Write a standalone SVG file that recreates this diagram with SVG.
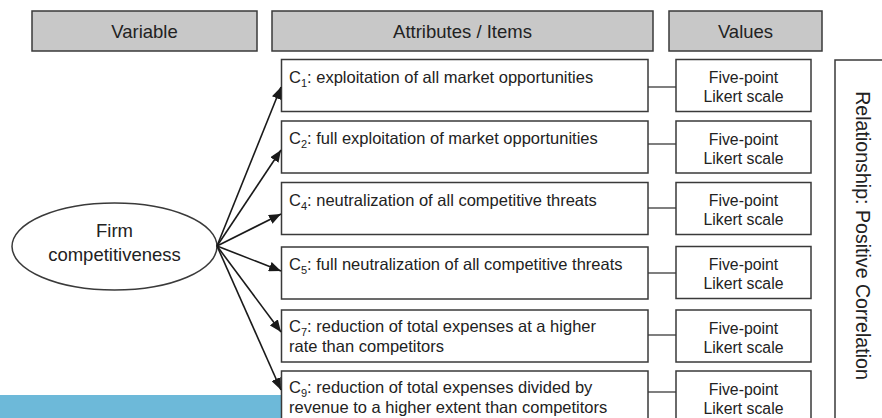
<svg xmlns="http://www.w3.org/2000/svg" width="882" height="418" viewBox="0 0 882 418">
  <style>
    .hdr { fill: #c8c8c8; stroke: #3a3a3a; stroke-width: 1.5; }
    .box { fill: #ffffff; stroke: #3a3a3a; stroke-width: 1.5; }
    .t { font-family: "Liberation Sans", Arial, sans-serif; fill: #222222; }
    .th { font-size: 18.5px; text-anchor: middle; }
    .tr { font-size: 19.6px; text-anchor: middle; }
    .ti { font-size: 16.5px; }
    .tv { font-size: 15.8px; text-anchor: middle; }
    .sub { font-size: 11px; }
    .link { stroke: #1a1a1a; stroke-width: 1.6; fill: none; }
    .tie { stroke: #3a3a3a; stroke-width: 1.3; fill: none; }
  </style>
  <defs>
    <marker id="arrow" viewBox="0 0 12 10" refX="12" refY="5" markerWidth="12" markerHeight="10" markerUnits="userSpaceOnUse" orient="auto">
      <path d="M0,0 L12,5 L0,10 Z" fill="#1a1a1a"/>
    </marker>
  </defs>

  <rect width="882" height="418" fill="#ffffff"/>

  <!-- column headers -->
  <g id="hdr-variable">
    <rect class="hdr" x="32" y="11" width="225" height="40"/>
    <text class="t th" x="144.5" y="37.5">Variable</text>
  </g>
  <g id="hdr-attributes">
    <rect class="hdr" x="272" y="11" width="381" height="40"/>
    <text class="t th" x="462.5" y="37.5">Attributes / Items</text>
  </g>
  <g id="hdr-values">
    <rect class="hdr" x="669" y="11" width="153" height="40"/>
    <text class="t th" x="745.5" y="37.5">Values</text>
  </g>

  <!-- band along the lower edge -->
  <rect x="0" y="395" width="281" height="23" fill="#6db9d9"/>

  <!-- relationship panel -->
  <g id="relationship">
    <rect class="box" x="835" y="60" width="80" height="400"/>
    <text class="t tr" transform="translate(855.5,235.5) rotate(90)">Relationship: Positive Correlation</text>
  </g>

  <!-- latent variable -->
  <g id="firm">
    <ellipse class="box" cx="114.5" cy="246.5" rx="102.5" ry="43.5"/>
    <text class="t th" x="114.5" y="237">Firm</text>
    <text class="t th" x="114.5" y="261">competitiveness</text>
  </g>

  <!-- items -->
  <g id="c1">
    <rect class="box" x="281.5" y="59.5" width="366.5" height="52"/>
    <text class="t ti" x="289" y="82.5">C<tspan class="sub" dy="4">1</tspan><tspan dy="-4">: exploitation of all market opportunities</tspan></text>
  </g>
  <g id="c2">
    <rect class="box" x="281.5" y="121" width="366.5" height="52"/>
    <text class="t ti" x="289" y="144">C<tspan class="sub" dy="4">2</tspan><tspan dy="-4">: full exploitation of market opportunities</tspan></text>
  </g>
  <g id="c4">
    <rect class="box" x="281.5" y="182.5" width="366.5" height="52"/>
    <text class="t ti" x="289" y="205.5">C<tspan class="sub" dy="4">4</tspan><tspan dy="-4">: neutralization of all competitive threats</tspan></text>
  </g>
  <g id="c5">
    <rect class="box" x="281.5" y="247" width="366.5" height="52"/>
    <text class="t ti" x="289" y="270">C<tspan class="sub" dy="4">5</tspan><tspan dy="-4">: full neutralization of all competitive threats</tspan></text>
  </g>
  <g id="c7">
    <rect class="box" x="281.5" y="310" width="366.5" height="52"/>
    <text class="t ti" x="289" y="332">C<tspan class="sub" dy="4">7</tspan><tspan dy="-4">: reduction of total expenses at a higher</tspan></text>
    <text class="t ti" x="289" y="352">rate than competitors</text>
  </g>
  <g id="c9">
    <rect class="box" x="281.5" y="371" width="366.5" height="60"/>
    <text class="t ti" x="289" y="393">C<tspan class="sub" dy="4">9</tspan><tspan dy="-4">: reduction of total expenses divided by</tspan></text>
    <text class="t ti" x="289" y="413">revenue to a higher extent than competitors</text>
  </g>

  <!-- value scales -->
  <g id="v1">
    <rect class="box" x="676" y="59.5" width="135" height="52"/>
    <text class="t tv" x="743.5" y="83">Five-point</text>
    <text class="t tv" x="743.5" y="102">Likert scale</text>
  </g>
  <g id="v2">
    <rect class="box" x="676" y="121" width="135" height="52"/>
    <text class="t tv" x="743.5" y="144.5">Five-point</text>
    <text class="t tv" x="743.5" y="163.5">Likert scale</text>
  </g>
  <g id="v4">
    <rect class="box" x="676" y="182.5" width="135" height="52"/>
    <text class="t tv" x="743.5" y="206">Five-point</text>
    <text class="t tv" x="743.5" y="225">Likert scale</text>
  </g>
  <g id="v5">
    <rect class="box" x="676" y="246.5" width="135" height="52"/>
    <text class="t tv" x="743.5" y="270">Five-point</text>
    <text class="t tv" x="743.5" y="289">Likert scale</text>
  </g>
  <g id="v7">
    <rect class="box" x="676" y="310" width="135" height="52"/>
    <text class="t tv" x="743.5" y="333.5">Five-point</text>
    <text class="t tv" x="743.5" y="352.5">Likert scale</text>
  </g>
  <g id="v9">
    <rect class="box" x="676" y="371" width="135" height="60"/>
    <text class="t tv" x="743.5" y="394.5">Five-point</text>
    <text class="t tv" x="743.5" y="413.5">Likert scale</text>
  </g>

  <!-- connectors -->
  <g id="connectors">
    <line class="link" x1="217" y1="246" x2="281" y2="87" marker-end="url(#arrow)"/>
    <line class="link" x1="217" y1="246" x2="281" y2="150" marker-end="url(#arrow)"/>
    <line class="link" x1="217" y1="246" x2="281" y2="214" marker-end="url(#arrow)"/>
    <line class="link" x1="217" y1="246" x2="281" y2="271" marker-end="url(#arrow)"/>
    <line class="link" x1="217" y1="246" x2="281" y2="332" marker-end="url(#arrow)"/>
    <line class="link" x1="217" y1="246" x2="281" y2="390" marker-end="url(#arrow)"/>
    <line class="tie" x1="648" y1="87" x2="676" y2="87"/>
    <line class="tie" x1="648" y1="144" x2="676" y2="144"/>
    <line class="tie" x1="648" y1="208" x2="676" y2="208"/>
    <line class="tie" x1="648" y1="273" x2="676" y2="273"/>
    <line class="tie" x1="648" y1="335" x2="676" y2="335"/>
    <line class="tie" x1="648" y1="392" x2="676" y2="392"/>
  </g>
</svg>
